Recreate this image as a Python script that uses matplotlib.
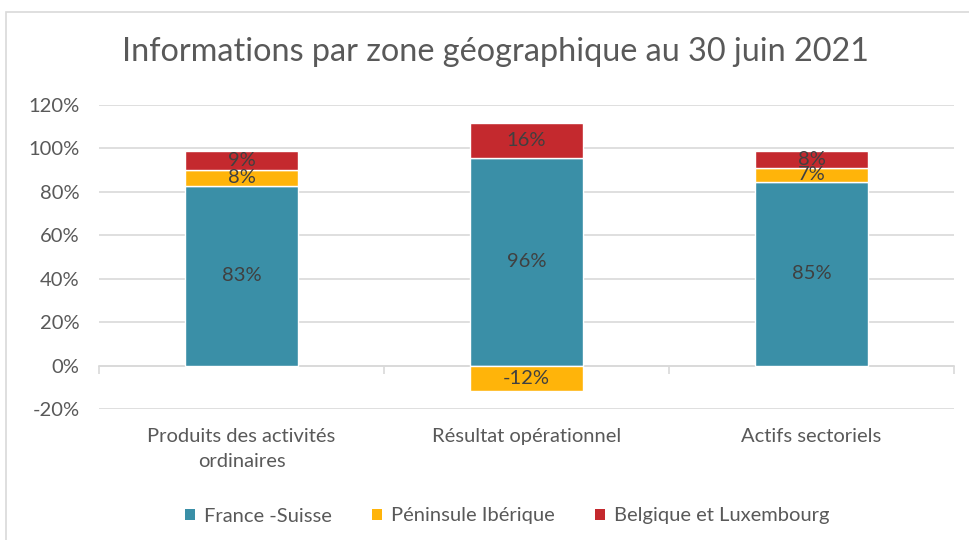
import matplotlib
matplotlib.use("Agg")
import matplotlib.pyplot as plt
from matplotlib.patches import Patch, Rectangle
import numpy as np

plt.rcParams['font.family'] = ['Lato', 'DejaVu Sans']

# données (en %)
categories = ["Produits des activités\nordinaires", "Résultat opérationnel", "Actifs sectoriels"]
france_suisse = [82.6, 95.6, 84.6]
peninsule_iberique = [7.6, -11.6, 6.6]
belgique_lux = [8.6, 16.1, 7.6]
series_names = ["France -Suisse", "Péninsule Ibérique", "Belgique et Luxembourg"]
colors = ["#3A8FA7", "#FFB40A", "#C4292E"]
yticks = [-20, 0, 20, 40, 60, 80, 100, 120]

fig = plt.figure(figsize=(9.7, 5.4), dpi=100)
ax = fig.add_axes([99 / 970, 1 - 409 / 540, 855 / 970, 304 / 540])

# cadre gris du graphique
fig.patches.append(Rectangle((6 / 970, -0.05), 1.2, 1 - 12 / 540 + 0.05,
                             transform=fig.transFigure, fill=False,
                             edgecolor="#D9D9D9", lw=1.2))

x = np.arange(len(categories))
w = 0.393
fs = np.array(france_suisse)
pi = np.array(peninsule_iberique)
bl = np.array(belgique_lux)

b1 = ax.bar(x, fs, w, color=colors[0], edgecolor="white", lw=1, zorder=3)
pi_bottom = np.where(pi >= 0, fs, 0)
b2 = ax.bar(x, pi, w, bottom=pi_bottom, color=colors[1], edgecolor="white", lw=1, zorder=3)
bl_bottom = fs + np.clip(pi, 0, None)
b3 = ax.bar(x, bl, w, bottom=bl_bottom, color=colors[2], edgecolor="white", lw=1, zorder=3)

for vals, bottoms in [(fs, np.zeros(3)), (pi, pi_bottom), (bl, bl_bottom)]:
    for xi, v, b in zip(x, vals, bottoms):
        ax.text(xi, b + v / 2, f"{round(v):.0f}%", ha="center", va="center",
                fontsize=14.5, color="#404040", zorder=4)

ax.set_xlim(-0.5, 2.5)
ax.set_ylim(-20, 120)
ax.set_yticks(yticks)
ax.set_yticklabels([f"{t}%" for t in yticks], fontsize=14.5, color="#595959")
ax.tick_params(axis="y", length=0, pad=14)
ax.yaxis.grid(True, color="#D9D9D9", lw=1.2)
ax.set_axisbelow(True)

for s in ["top", "right", "left"]:
    ax.spines[s].set_visible(False)
ax.spines["bottom"].set_position(("data", 0))
ax.spines["bottom"].set_color("#D9D9D9")
ax.spines["bottom"].set_linewidth(1.2)
ax.set_xticks(x)
ax.set_xticklabels(categories, fontsize=14.5, color="#595959", linespacing=1.6)
ax.tick_params(axis="x", which="major", length=0, pad=45)
ax.set_xticks([-0.5, 0.5, 1.5, 2.5], minor=True)
ax.tick_params(axis="x", which="minor", length=6, color="#D9D9D9", width=1.2)

fig.text(0.511, 1 - 52 / 540, "Informations par zone géographique au 30 juin 2021",
         ha="center", va="center", fontsize=23.3, color="#595959")

handles = [Patch(facecolor=c, edgecolor="none") for c in colors]
fig.legend(handles, series_names, loc="center", bbox_to_anchor=(0.523, 1 - 516 / 540),
           ncol=3, frameon=False, fontsize=14.5, labelcolor="#595959",
           handlelength=0.5, handleheight=0.5, handletextpad=0.45, columnspacing=2.0)

fig.savefig("out.png", dpi=100)
